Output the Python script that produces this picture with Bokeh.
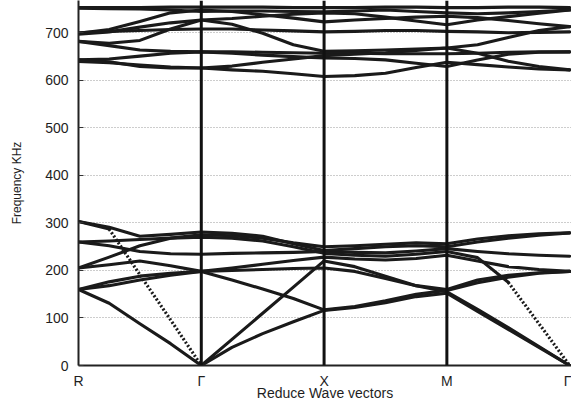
import numpy as np
from bokeh.plotting import figure
from bokeh.models import Span, FixedTicker, Range1d
from bokeh.embed import file_html
from bokeh.resources import INLINE

# reduced wave-vector path positions (R - Gamma - X - M - Gamma)
k_path = [0.0, 0.25, 0.5, 0.75, 1.0, 1.25, 1.5, 1.75, 2.0,
          2.25, 2.5, 2.75, 3.0, 3.25, 3.5, 3.75, 4.0]
sym_pos = [0, 1, 2, 3, 4]
sym_labels = ["R", "Γ", "X", "M", "Γ"]
freq_ticks = [0, 100, 200, 300, 400, 500, 600, 700]

# low-frequency bands (kHz)
low1 = [160, 131, 88, 46, 0, 55, 110, 165, 220, 208, 188, 168, 155, 118, 80, 40, 0]
low2 = [303, 287, 191, 96, 0, 38, 67, 92, 116, 122, 132, 145, 152, 114, 76, 38, 0]
low3 = [160, 168, 180, 190, 198, 180, 161, 141, 117, 124, 136, 150, 158, 174, 186, 194, 198]
low4 = [160, 176, 188, 194, 198, 200, 202, 204, 205, 198, 183, 168, 160, 180, 190, 195, 198]
low5 = [205, 212, 220, 210, 198, 205, 213, 221, 228, 224, 222, 225, 232, 220, 208, 202, 198]
low6 = [260, 252, 240, 235, 234, 236, 237, 238, 240, 238, 237, 241, 246, 240, 235, 232, 230]
low7 = [260, 262, 265, 268, 270, 268, 262, 250, 236, 232, 230, 234, 240, 227, 175, 88, 0]
low8 = [205, 228, 252, 268, 275, 273, 268, 258, 250, 252, 255, 258, 256, 266, 273, 277, 279]
low9 = [303, 291, 272, 276, 281, 278, 272, 256, 242, 246, 250, 252, 250, 260, 268, 274, 279]

# high-frequency bands (kHz)
hi1 = [753, 753, 753, 754, 754, 754, 754, 753, 753, 753, 754, 754, 753, 753, 754, 754, 753]
hi2 = [699, 707, 724, 742, 748, 745, 738, 731, 723, 727, 730, 733, 735, 732, 726, 719, 713]
hi3 = [697, 702, 712, 721, 727, 730, 735, 739, 742, 740, 733, 725, 717, 727, 734, 741, 748]
hi4 = [700, 703, 705, 707, 708, 708, 706, 704, 702, 703, 705, 705, 703, 702, 700, 701, 702]
hi5 = [682, 678, 684, 708, 727, 718, 699, 675, 661, 662, 664, 666, 668, 657, 640, 629, 622]
hi6 = [682, 673, 664, 661, 660, 660, 659, 658, 657, 657, 656, 656, 656, 657, 659, 660, 660]
hi7 = [643, 645, 651, 657, 660, 657, 653, 650, 647, 646, 643, 636, 629, 643, 655, 659, 660]
hi8 = [643, 639, 629, 626, 626, 622, 619, 614, 608, 610, 615, 627, 638, 633, 628, 624, 622]
hi9 = [640, 637, 632, 628, 626, 630, 638, 645, 652, 655, 658, 663, 668, 675, 690, 705, 713]
hi10 = [752, 751, 750, 748, 745, 746, 746, 745, 744, 746, 748, 745, 742, 740, 742, 745, 748]

# index ranges drawn dotted (steep acoustic-like branches)
dotted_parts = [(low2, 1, 4), (low7, 14, 16)]

FONT = "Liberation Sans"
INK = "#1a1a1a"

p = figure(width=571, height=403,
           x_range=Range1d(0, 4.015), y_range=Range1d(0, 768),
           output_backend="svg", toolbar_location=None,
           min_border_left=78, min_border_right=0,
           min_border_top=0, min_border_bottom=37)
p.outline_line_color = None
p.background_fill_color = "white"

k_arr = np.array(k_path, dtype=float)

solid_bands = [low1, low2, low3, low4, low5, low6, low7, low8, low9,
               hi1, hi2, hi3, hi4, hi5, hi6, hi7, hi8, hi9, hi10]
for band in solid_bands:
    y = np.array(band, dtype=float)
    for (b, i0, i1) in dotted_parts:
        if b is band:
            y[i0 + 1:i1 + 1 if i1 == len(band) - 1 else i1] = np.nan
    p.line(k_arr, y, line_width=3.1, line_color=INK, line_join="round", line_cap="round")

for (b, i0, i1) in dotted_parts:
    p.line(k_arr[i0:i1 + 1], np.array(b[i0:i1 + 1], dtype=float),
           line_width=3.2, line_color=INK, line_dash="2 2")

for pos in sym_pos[1:-1]:
    p.add_layout(Span(location=pos, dimension="height", line_color="#111111", line_width=3))

# x axis
p.xaxis.ticker = FixedTicker(ticks=sym_pos)
p.xaxis.major_label_overrides = {pos: lab for pos, lab in zip(sym_pos, sym_labels)}
p.xaxis.major_tick_line_color = None
p.xaxis.major_tick_in = 0
p.xaxis.major_tick_out = 0
p.xaxis.minor_tick_line_color = None
p.xaxis.axis_line_width = 2
p.xaxis.axis_line_color = "#222222"
p.xaxis.major_label_standoff = 7
p.xaxis.major_label_text_font = FONT
p.xaxis.major_label_text_font_size = "14px"
p.xaxis.major_label_text_color = "#1e1e1e"
p.xaxis.axis_label = "Reduce Wave vectors"
p.xaxis.axis_label_text_font = FONT
p.xaxis.axis_label_text_font_size = "14px"
p.xaxis.axis_label_text_font_style = "normal"
p.xaxis.axis_label_text_color = "#1e1e1e"
p.xaxis.axis_label_standoff = -7

# y axis
p.yaxis.ticker = FixedTicker(ticks=freq_ticks)
p.yaxis.major_tick_in = 5
p.yaxis.major_tick_out = 0
p.yaxis.major_tick_line_color = "#333333"
p.yaxis.minor_tick_line_color = None
p.yaxis.axis_line_width = 2
p.yaxis.axis_line_color = "#222222"
p.yaxis.major_label_standoff = 10
p.yaxis.major_label_text_font = FONT
p.yaxis.major_label_text_font_size = "14px"
p.yaxis.major_label_text_color = "#1e1e1e"
p.yaxis.axis_label = "Frequency KHz"
p.yaxis.axis_label_text_font = FONT
p.yaxis.axis_label_text_font_size = "12px"
p.yaxis.axis_label_text_font_style = "normal"
p.yaxis.axis_label_text_color = "#1e1e1e"
p.yaxis.axis_label_standoff = 18

p.xgrid.visible = False
p.ygrid.grid_line_color = "#9a9a9a"
p.ygrid.grid_line_dash = "1 2"
p.ygrid.grid_line_width = 1

open("out.html", "w").write(file_html(p, INLINE))
